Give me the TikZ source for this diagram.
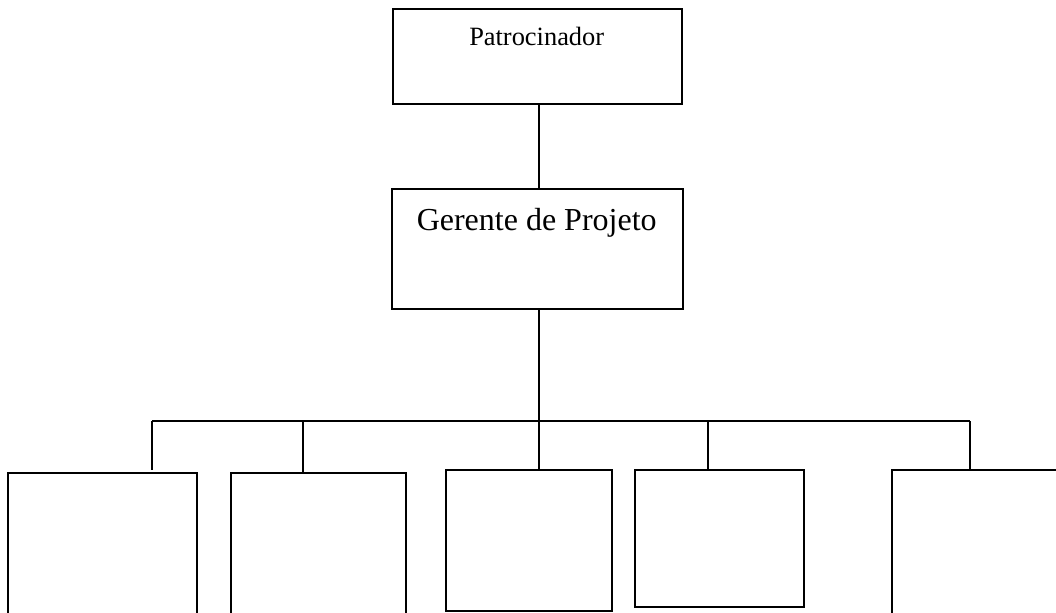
\documentclass[tikz,border=0pt]{standalone}
\usepackage{fontspec}
\setmainfont{Liberation Serif}

\begin{document}
\begin{tikzpicture}[
  x=0.5pt, y=-0.5pt,
  line width=1pt,
  orgbox/.style={draw, rectangle, inner sep=0pt, outer sep=0pt},
]
\useasboundingbox (0,0) rectangle (1056,612);
\clip (0,0) rectangle (1056,612);
\node[orgbox, minimum width=144.5pt, minimum height=47.5pt] (pat) at (537.5,56.8) {};
\node[orgbox, minimum width=145.2pt, minimum height=59.9pt] (ger) at (537.5,249.2) {};
\node[anchor=base, font=\fontsize{13.2pt}{15pt}\selectfont] (patlbl) at (536.7,45) {Patrocinador};
\node[anchor=base, font=\fontsize{16pt}{19pt}\selectfont] (gerlbl) at (536.7,230) {Gerente de Projeto};
\node[orgbox, minimum width=94.6pt, minimum height=103.7pt] (b1) at (102.7,576.3) {};
\node[orgbox, minimum width=87.3pt, minimum height=103.7pt] (b2) at (318.7,576.3) {};
\node[orgbox, minimum width=83.3pt, minimum height=70.5pt] (b3) at (529,540.2) {};
\node[orgbox, minimum width=84.5pt, minimum height=68.7pt] (b4) at (719.8,538.3) {};
\node[orgbox, minimum width=104.2pt, minimum height=105.2pt] (b5) at (995.8,574.8) {};
\coordinate (spine) at (539.3,421.3);
\coordinate (j1) at (152.3,421.3);
\coordinate (j2) at (302.7,421.3);
\coordinate (j4) at (707.7,421.3);
\coordinate (j5) at (970.3,421.3);
\draw (pat.south -| spine) -- (ger.north -| spine);
\draw (ger.south -| spine) -- (b3.north -| spine);
\draw (j1) -- (j5);
\draw (j1) -- ([yshift=1.5pt]j1 |- b1.north);
\draw (j2) -- (j2 |- b2.north);
\draw (j4) -- (j4 |- b4.north);
\draw (j5) -- (j5 |- b5.north);
\end{tikzpicture}
\end{document}
